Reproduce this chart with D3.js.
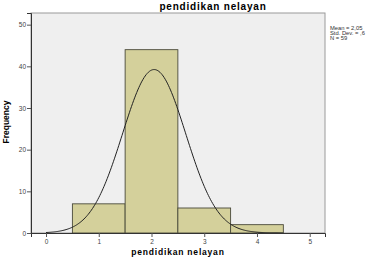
<!DOCTYPE html>
<html>
<head>
<meta charset="utf-8">
<script src="https://cdn.jsdelivr.net/npm/d3@7"></script>
<style>
  body { margin: 0; background: #fff; }
  svg text { font-family: "Liberation Sans", Arial, sans-serif; }
</style>
</head>
<body>
<svg id="chart" width="378" height="260"></svg>
<script>
// histogram bins (education level) and counts
const binStarts = [0.5, 1.5, 2.5, 3.5];
const counts = [7, 44, 6, 2];
const binWidth = 1;
const xTicks = [0, 1, 2, 3, 4, 5];
const yTicks = [0, 10, 20, 30, 40, 50];
const statLabels = ["Mean = 2,05", "Std. Dev. = ,6", "N = 59"];
const stats = { mean: 2.05, sd: 0.6, n: 59 };

const svg = d3.select("#chart");
const plotL = 31, plotR = 325, plotT = 13, plotB = 233;

const x = d3.scaleLinear().domain([-0.285, 5.29]).range([plotL, plotR]);
const y = d3.scaleLinear().domain([0, 52.8]).range([plotB, plotT]);

// plot background
svg.append("rect")
  .attr("x", plotL).attr("y", plotT)
  .attr("width", plotR - plotL).attr("height", plotB - plotT)
  .attr("fill", "#efefef")
  .attr("stroke", "#9a9a9a")
  .attr("stroke-width", 1);

// bars
svg.append("g").selectAll("rect")
  .data(counts)
  .enter()
  .append("rect")
  .attr("x", (d, i) => x(binStarts[i]))
  .attr("y", d => y(d))
  .attr("width", (d, i) => x(binStarts[i] + binWidth) - x(binStarts[i]))
  .attr("height", d => y(0) - y(d))
  .attr("fill", "#d4d09b")
  .attr("stroke", "#4a4a3a")
  .attr("stroke-width", 0.9);

// normal curve
const curveX = d3.range(0, 4.5001, 0.02);
const dens = v => stats.n * binWidth / (stats.sd * Math.sqrt(2 * Math.PI)) *
  Math.exp(-0.5 * Math.pow((v - stats.mean) / stats.sd, 2));
svg.append("path")
  .datum(curveX)
  .attr("fill", "none")
  .attr("stroke", "#222")
  .attr("stroke-width", 1)
  .attr("d", d3.line().x(d => x(d)).y(d => y(dens(d))));

// axes
const yAxis = svg.append("g")
  .attr("transform", "translate(" + plotL + ",0)")
  .call(d3.axisLeft(y).tickValues(yTicks).tickFormat(d3.format("d")).tickSize(4).tickPadding(1));
const xAxis = svg.append("g")
  .attr("transform", "translate(0," + plotB + ")")
  .call(d3.axisBottom(x).tickValues(xTicks).tickFormat(d3.format("d")).tickSize(4).tickPadding(2));

[xAxis, yAxis].forEach(a => {
  a.select(".domain").attr("stroke", "#333");
  a.selectAll(".tick line").attr("stroke", "#555");
  a.selectAll(".tick text").attr("fill", "#444").style("font-size", "6.5px");
});

// title and axis labels
svg.append("text")
  .attr("x", 213).attr("y", 10)
  .attr("text-anchor", "middle")
  .style("font-size", "10px").style("font-weight", "bold")
  .style("letter-spacing", "0.8px")
  .text("pendidikan nelayan");

svg.append("text")
  .attr("x", 178).attr("y", 255)
  .attr("text-anchor", "middle")
  .style("font-size", "8.5px").style("font-weight", "bold")
  .style("letter-spacing", "0.8px")
  .text("pendidikan nelayan");

svg.append("text")
  .attr("transform", "translate(9,122) rotate(-90)")
  .attr("text-anchor", "middle")
  .style("font-size", "8.5px").style("font-weight", "bold")
  .text("Frequency");

// stats legend
svg.append("g").selectAll("text")
  .data(statLabels)
  .enter()
  .append("text")
  .attr("x", 330)
  .attr("y", (d, i) => 29.5 + i * 5.4)
  .style("font-size", "5.8px")
  .attr("fill", "#333")
  .text(d => d);
</script>
</body>
</html>
